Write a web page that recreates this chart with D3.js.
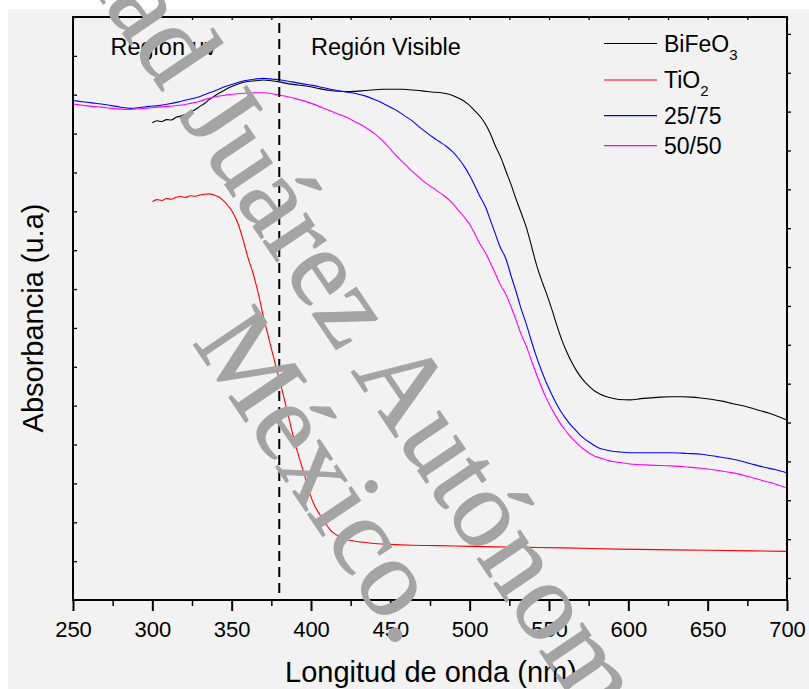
<!DOCTYPE html>
<html>
<head>
<meta charset="utf-8">
<script src="https://cdn.jsdelivr.net/npm/d3@7"></script>
<style>
  html, body { margin: 0; padding: 0; background: #ffffff; }
  svg { display: block; }
</style>
</head>
<body>
<script>
// ---------------- DATA ----------------
const xTickValues = [250, 300, 350, 400, 450, 500, 550, 600, 650, 700];
const xMinorTicks = [275, 325, 375, 425, 475, 525, 575, 625, 675];
const regionLabels = ["Región uv", "Región Visible"];
const boundaryWavelength = 380;

const seriesNames = ["BiFeO", "TiO", "25/75", "50/50"];
const seriesSubs = ["3", "2", "", ""];
const seriesColors = ["#000000", "#ff0000", "#0000ff", "#ff00ff"];

const bifeoX = [300,303,306,309,312,315,318,321,324,327,330,333,336,339,342,346,350,355,360,365,370,375,380,386,392,399,406,412,418,425,432,438,445,451,458,464,470,476,482,487,491,495,499,503,507,510,513,516,520,523,526,529,533,536,539,542,546,549,552,555,558,561,564,567,570,573,576,579,582,585,588,594,601,608,614,620,627,634,640,647,653,660,666,673,679,686,692,700];
const bifeoY = [12.28,12.33,12.31,12.36,12.35,12.42,12.45,12.50,12.55,12.62,12.70,12.78,12.88,12.96,13.04,13.13,13.21,13.29,13.34,13.36,13.38,13.36,13.33,13.28,13.25,13.21,13.15,13.11,13.09,13.08,13.10,13.12,13.14,13.14,13.14,13.12,13.10,13.07,13.05,13.01,12.95,12.87,12.76,12.60,12.42,12.24,12.00,11.70,11.35,11.02,10.70,10.34,9.90,9.55,9.10,8.64,8.15,7.82,7.45,7.06,6.70,6.40,6.14,5.92,5.74,5.59,5.47,5.37,5.30,5.25,5.21,5.16,5.15,5.18,5.20,5.22,5.23,5.23,5.22,5.19,5.16,5.11,5.05,4.99,4.92,4.84,4.76,4.63];

const tio2X = [300,303,306,309,312,315,318,321,324,327,330,333,336,339,342,345,348,351,354,357,360,363.5,367,370,373,376.3,379.5,383,386,389,392.5,396,399,402,405.5,409,412,415,418.6,425,432,438,450,464,480,500,529,560,594,650,700];
const tio2Y = [10.25,10.30,10.28,10.33,10.31,10.36,10.38,10.36,10.40,10.39,10.42,10.44,10.45,10.42,10.37,10.27,10.13,9.95,9.68,9.30,8.85,8.40,7.85,7.29,6.80,6.26,5.76,5.20,4.69,4.18,3.67,3.20,2.77,2.45,2.20,1.98,1.81,1.70,1.62,1.53,1.49,1.46,1.43,1.41,1.40,1.38,1.36,1.34,1.31,1.28,1.25];

const mix2575X = [250,256,262,268,274,280,286,292,298,304,310,316,322,328,334,340,346,352,358,364,370,376,381,388,395,401,408,415,422,428,434,440,445,450,455,460,464,468,472,477,481,485,489,493,497,500,503,506,510,513,516,519,523,526,529,532,536,539,542,545,548,551,554,557,560,563,566,569,572,575,578,581,585,588,594,601,610,620,627,637,646,656,666,676,685,693,700];
const mix2575Y = [12.85,12.82,12.79,12.76,12.72,12.68,12.65,12.67,12.70,12.72,12.76,12.81,12.87,12.93,13.02,13.11,13.21,13.29,13.36,13.40,13.42,13.40,13.38,13.33,13.28,13.24,13.18,13.12,13.07,13.03,12.97,12.88,12.79,12.68,12.57,12.43,12.32,12.18,12.05,11.90,11.79,11.68,11.54,11.36,11.13,10.92,10.68,10.42,10.11,9.78,9.44,9.10,8.76,8.35,7.97,7.55,7.06,6.65,6.27,5.93,5.62,5.35,5.10,4.88,4.70,4.54,4.40,4.27,4.16,4.07,3.99,3.92,3.87,3.84,3.81,3.79,3.79,3.79,3.79,3.77,3.75,3.69,3.62,3.52,3.42,3.35,3.27];

const mix5050X = [250,256,262,268,274,280,286,292,298,304,310,317,323,329,335,340,346,352,358,364,370,375,380,386,392,398,404,410,416,422,428,434,440,445,450,455,460,464,469,474,479,484,490,493,497,500,503,506,510,513,516,519,523,526,529,532,536,539,542,545,548,551,554,557,560,563,566,569,572,575,578,581,585,588,594,601,614,627,637,646,656,666,676,685,693,700];
const mix5050Y = [12.76,12.73,12.70,12.68,12.65,12.63,12.62,12.64,12.66,12.68,12.70,12.73,12.77,12.82,12.90,12.95,12.99,13.02,13.04,13.05,13.05,13.03,12.99,12.94,12.88,12.81,12.72,12.62,12.52,12.43,12.30,12.17,12.00,11.82,11.60,11.38,11.18,11.02,10.84,10.68,10.54,10.40,10.17,10.02,9.83,9.66,9.44,9.20,8.93,8.68,8.42,8.14,7.85,7.55,7.23,6.88,6.50,6.15,5.82,5.50,5.22,4.97,4.75,4.55,4.38,4.23,4.10,3.98,3.88,3.79,3.72,3.67,3.62,3.58,3.54,3.50,3.47,3.45,3.42,3.39,3.34,3.27,3.17,3.07,2.98,2.88];

const xTitle = "Longitud de onda (nm)";
const yTitle = "Absorbancia (u.a)";
const watermarkLine1 = "Universidad Juárez Autónoma de Tabasco";
const watermarkLine2 = "México.";

// ---------------- LAYOUT ----------------
const W = 809, H = 689;
const pLeft = 73, pRight = 787, pTop = 17, pBottom = 600;
const sans = "'Liberation Sans', Arial, Helvetica, sans-serif";
const serif = "'Liberation Serif', 'Times New Roman', serif";

const svg = d3.select("body").append("svg").attr("width", W).attr("height", H);

svg.append("rect").attr("x", 8).attr("y", 9).attr("width", W - 8).attr("height", H - 9).attr("fill", "#f2f2f2");

const x = d3.scaleLinear().domain([250, 700]).range([pLeft, pRight]);
const y = d3.scaleLinear().domain([0, 15]).range([pBottom, pTop]);

// Curves
const allSeries = [
  {xs: bifeoX, ys: bifeoY, color: seriesColors[0]},
  {xs: tio2X, ys: tio2Y, color: seriesColors[1]},
  {xs: mix2575X, ys: mix2575Y, color: seriesColors[2]},
  {xs: mix5050X, ys: mix5050Y, color: seriesColors[3]}
];
const line = d3.line().x(d => x(d[0])).y(d => y(d[1])).curve(d3.curveMonotoneX);
allSeries.forEach(s => {
  svg.append("path")
    .attr("d", line(s.xs.map((v, i) => [v, s.ys[i]])))
    .attr("fill", "none").attr("stroke", s.color).attr("stroke-width", 1.1);
});

// Dashed boundary line
svg.append("line")
  .attr("x1", x(boundaryWavelength)).attr("x2", x(boundaryWavelength))
  .attr("y1", 23).attr("y2", pBottom)
  .attr("stroke", "#000").attr("stroke-width", 2).attr("stroke-dasharray", "10,6");

// Axes
const gx = svg.append("g").attr("transform", `translate(0,${pBottom})`)
  .call(d3.axisBottom(x).tickValues(xTickValues).tickSize(11).tickPadding(10).tickFormat(d3.format("d")));
gx.select(".domain").remove();
gx.selectAll(".tick line").attr("stroke-width", 2);
gx.selectAll(".tick text").attr("font-family", sans).attr("font-size", 22).attr("fill", "#000");

const gxm = svg.append("g").attr("transform", `translate(0,${pBottom})`)
  .call(d3.axisBottom(x).tickValues(xMinorTicks).tickSize(6).tickFormat(""));
gxm.select(".domain").remove();
gxm.selectAll(".tick line").attr("stroke-width", 1.5);

const gtop = svg.append("g").attr("transform", `translate(0,${pTop})`)
  .call(d3.axisBottom(x).tickValues(d3.range(250, 701, 25)).tickSize(3).tickFormat(""));
gtop.select(".domain").remove();
gtop.selectAll(".tick line").attr("stroke-width", 1.3);

const gy = svg.append("g").attr("transform", `translate(${pLeft},0)`)
  .call(d3.axisRight(y).tickValues(d3.range(1, 15)).tickSize(4).tickFormat(""));
gy.select(".domain").remove();
gy.selectAll(".tick line").attr("stroke-width", 1.3);

const gyr = svg.append("g").attr("transform", `translate(${pRight},0)`)
  .call(d3.axisRight(y).tickValues(d3.range(0, 15).map(k => k + 0.566)).tickSize(4).tickFormat(""));
gyr.select(".domain").remove();
gyr.selectAll(".tick line").attr("stroke-width", 1.3);

// Frame
svg.append("rect").attr("x", pLeft).attr("y", pTop).attr("width", pRight - pLeft).attr("height", pBottom - pTop)
  .attr("fill", "none").attr("stroke", "#000").attr("stroke-width", 2);

// Region labels
svg.append("text").attr("x", 110.5).attr("y", 55).attr("font-family", sans).attr("font-size", 23.5).text(regionLabels[0]);
svg.append("text").attr("x", 311).attr("y", 55).attr("font-family", sans).attr("font-size", 23.5).text(regionLabels[1]);

// Legend
const legendLineY = [43.5, 80, 115.7, 145.7];
const legendTextY = [52.3, 88.3, 124, 154];
seriesNames.forEach((name, i) => {
  svg.append("line").attr("x1", 604).attr("x2", 657).attr("y1", legendLineY[i]).attr("y2", legendLineY[i])
    .attr("stroke", seriesColors[i]).attr("stroke-width", 1.2);
  const t = svg.append("text").attr("x", 664).attr("y", legendTextY[i]).attr("font-family", sans).attr("font-size", 23);
  t.append("tspan").text(name);
  if (seriesSubs[i]) t.append("tspan").attr("font-size", 15).attr("dy", 8).text(seriesSubs[i]);
});

// Axis titles
svg.append("text").attr("x", 431).attr("y", 682).attr("text-anchor", "middle")
  .attr("font-family", sans).attr("font-size", 29).text(xTitle);
svg.append("text").attr("transform", "translate(43,318) rotate(-90)").attr("text-anchor", "middle")
  .attr("font-family", sans).attr("font-size", 29).text(yTitle);

// Watermark
const wmSize = 112, wmAngle = 56, wmColor = "#a4a4a4";
function measure(str) {
  const t = svg.append("text").attr("font-family", serif).attr("font-size", wmSize).text(str);
  const w = t.node().getComputedTextLength();
  t.remove();
  return w;
}
const idxA = watermarkLine1.indexOf("Autónoma");
const wA = measure("A");
const posA = measure(watermarkLine1.slice(0, idxA) + "A") - wA;
const capHalf = 0.662 * wmSize / 2;
svg.append("g").attr("transform", `translate(404,384) rotate(${wmAngle})`)
  .append("text").attr("x", -(posA + wA / 2)).attr("y", capHalf)
  .attr("font-family", serif).attr("font-size", wmSize).attr("fill", wmColor)
  .attr("stroke", wmColor).attr("stroke-width", 1.2).text(watermarkLine1);
svg.append("g").attr("transform", `translate(326,475) rotate(${wmAngle})`)
  .append("text").attr("x", 0).attr("y", capHalf).attr("text-anchor", "middle")
  .attr("font-family", serif).attr("font-size", wmSize).attr("fill", wmColor)
  .attr("stroke", wmColor).attr("stroke-width", 1.2).text(watermarkLine2);
</script>
</body>
</html>
